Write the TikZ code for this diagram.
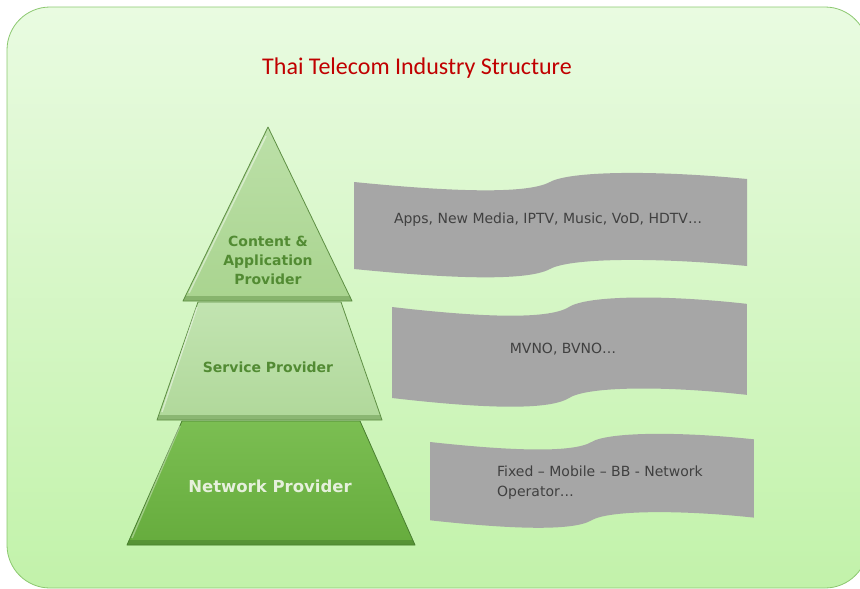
\documentclass[tikz,border=0pt]{standalone}
\usepackage{fontspec}
\setmainfont{DejaVu Sans}
\newfontfamily\titlefont{Carlito}
\usetikzlibrary{calc}
\definecolor{bgtop}{HTML}{E9FBE1}
\definecolor{bgbot}{HTML}{C2F2AA}
\definecolor{bgedge}{HTML}{8CC870}
\definecolor{titlered}{HTML}{C00000}
\definecolor{bannergrey}{HTML}{A6A6A6}
\definecolor{bantext}{HTML}{404040}
\definecolor{lvlAtop}{HTML}{BCE0A8}
\definecolor{lvlAbot}{HTML}{A9D48F}
\definecolor{lvlBtop}{HTML}{C2E4B1}
\definecolor{lvlBbot}{HTML}{B0D89A}
\definecolor{lvlCtop}{HTML}{7BBE52}
\definecolor{lvlCbot}{HTML}{66AC3D}
\definecolor{edgeA}{HTML}{5E8F44}
\definecolor{edgeC}{HTML}{4A8030}
\definecolor{lvltext}{HTML}{528B33}
\definecolor{lvltextw}{HTML}{E6F0DC}
\tikzset{
  levelA/.style={top color=lvlAtop, bottom color=lvlAbot, draw=edgeA, line width=0.8pt, line join=round},
  levelB/.style={top color=lvlBtop, bottom color=lvlBbot, draw=edgeA, line width=0.8pt, line join=round},
  levelC/.style={top color=lvlCtop, bottom color=lvlCbot, draw=edgeC, line width=0.8pt, line join=round},
  lvllabel/.style={font=\bfseries\fontsize{14}{19}\selectfont, text=lvltext, align=center, inner sep=0pt},
  bantxt/.style={font=\fontsize{14}{20}\selectfont, text=bantext, inner sep=0pt},
  banner/.style={fill=bannergrey},
}
\newcommand\bannerpath{(0,0) .. controls (90,9) and (172,13) .. (196,0) .. controls (216,-11) and (300,-12) .. (393,-3) -- (393,84) .. controls (300,75) and (216,76) .. (196,87) .. controls (172,100) and (90,96) .. (0,87) -- cycle}
\begin{document}
\begin{tikzpicture}[x=1pt,y=-1pt]
\useasboundingbox (0,0) rectangle (860,589);
% background panel
\shade[top color=bgtop, bottom color=bgbot, rounded corners=43pt] (7,7) rectangle (868,588);
\draw[bgedge, line width=0.8pt, rounded corners=43pt] (7,7) rectangle (868,588);
% title
\node[font=\titlefont\fontsize{24}{28}\selectfont, text=titlered, inner sep=0pt] (title) at (417,68) {Thai Telecom Industry Structure};
% pyramid
\path[levelC] (182,421) -- (360,421) -- (415,545) -- (127,545) -- cycle;
\fill[edgeC, opacity=0.55] (129,540) -- (413,540) -- (415,545) -- (127,545) -- cycle;
\draw[white, opacity=0.35, line width=1.5pt] (180,426) -- (132,538);
\path[levelB] (198,302) -- (341,302) -- (382,420) -- (157,420) -- cycle;
\fill[edgeA, opacity=0.45] (159,415) -- (380,415) -- (382,420) -- (157,420) -- cycle;
\draw[white, opacity=0.45, line width=1.5pt] (197,307) -- (162,412);
\path[levelA] (268,127) -- (352,301) -- (183,301) -- cycle;
\fill[edgeA, opacity=0.45] (185,296) -- (350,296) -- (352,301) -- (183,301) -- cycle;
\draw[white, opacity=0.45, line width=1.5pt] (266,136) -- (189,293);
\node[lvllabel] (content) at (268,260) {Content \&\\Application\\Provider};
\node[lvllabel] (service) at (268,367) {Service Provider};
\node[lvllabel, text=lvltextw, font=\bfseries\fontsize{16.5}{20}\selectfont] (network) at (270,486) {Network Provider};
% banners
\begin{scope}[shift={(354,182)}, xscale=1, yscale=1]
  \path[banner] \bannerpath;
\end{scope}
\begin{scope}[shift={(392,307)}, xscale=0.903, yscale=1.046]
  \path[banner] \bannerpath;
\end{scope}
\begin{scope}[shift={(430,442)}, xscale=0.824, yscale=0.9]
  \path[banner] \bannerpath;
\end{scope}
\node[bantxt] (apps) at (548,220) {Apps, New Media, IPTV, Music, VoD, HDTV…};
\node[bantxt] (mvno) at (563,349) {MVNO, BVNO…};
\node[bantxt, align=left, anchor=north west] (fixed) at (497,466) {Fixed – Mobile – BB - Network\\Operator…};
\end{tikzpicture}
\end{document}
